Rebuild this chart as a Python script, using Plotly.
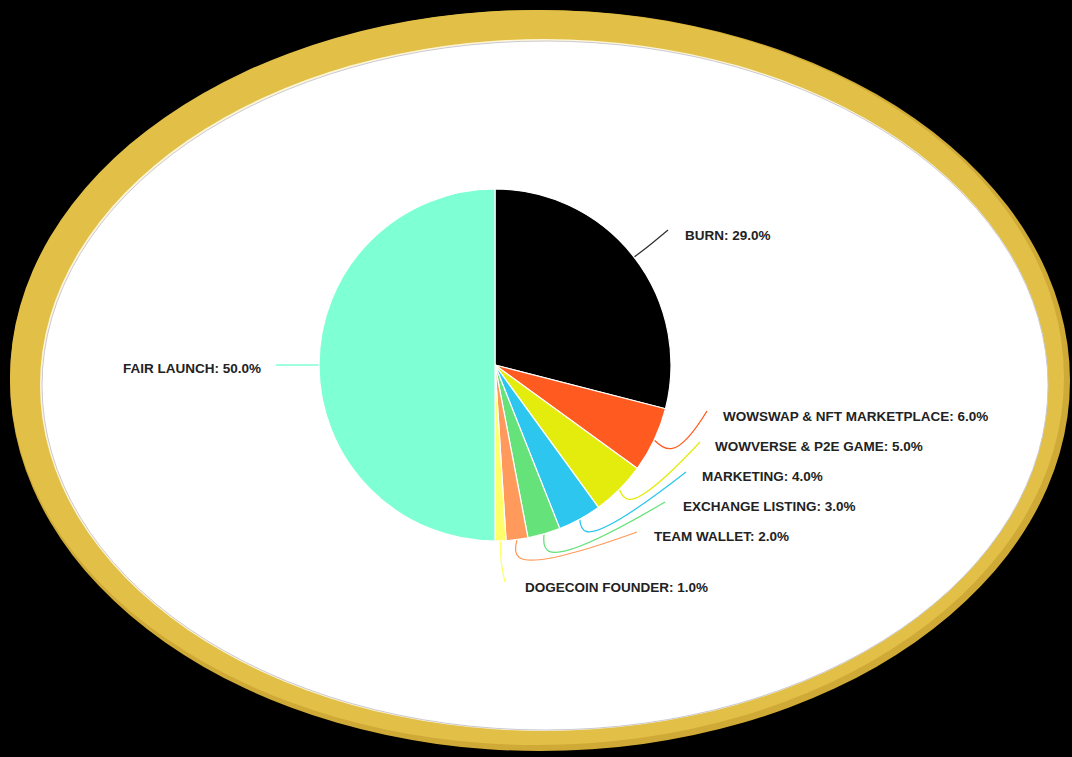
import math
import plotly.graph_objects as go

# ---------------- data ----------------
labels = ["BURN", "WOWSWAP & NFT MARKETPLACE", "WOWVERSE & P2E GAME", "MARKETING",
          "EXCHANGE LISTING", "TEAM WALLET", "DOGECOIN FOUNDER", "FAIR LAUNCH"]
values = [29.0, 6.0, 5.0, 4.0, 3.0, 2.0, 1.0, 50.0]
colors = ["#000000", "#FF5A1F", "#E4EC0E", "#2CC6EE", "#66E27A", "#FF9A5C", "#FFFF6A", "#7FFFD4"]

# ---------------- layout constants ----------------
W, H = 1072, 757
CX, CY, R = 495, 365, 176
# label anchor positions (pixels) and alignment
label_pos = [(683, 235, "left"), (721, 416, "left"), (713, 446, "left"), (700, 476, "left"),
             (681, 506, "left"), (652, 536, "left"), (523, 587, "left"), (263, 368, "right")]
line_ends = [(668, 230), (707, 411), (700, 442), (686, 472), (665, 502), (637, 532), (505, 582), (276, 365)]
ext_len = [22, 20, 14, 14, 18, 18, 20, 10]

fig = go.Figure()

# leader lines computed from slice mid-angles
total = sum(values)
cum = 0.0
for i, v in enumerate(values):
    mid = (cum + v / 2) / total * 2 * math.pi
    cum += v
    sx, sy = math.sin(mid), -math.cos(mid)
    p0 = (CX + R * sx, CY + R * sy)
    p1 = (CX + (R + ext_len[i]) * sx, CY + (R + ext_len[i]) * sy)
    p2 = line_ends[i]
    fig.add_trace(go.Scatter(
        x=[p0[0], p1[0], p2[0]], y=[p0[1], p1[1], p2[1]],
        mode="lines", line=dict(color=colors[i] if colors[i] != "#000000" else "#333333",
                                width=1.3, shape="spline", smoothing=1.3),
        hoverinfo="skip", showlegend=False))

fig.add_trace(go.Pie(
    labels=labels, values=values, sort=False, direction="clockwise", rotation=0,
    marker=dict(colors=colors, line=dict(color="#FFFFFF", width=1.2)),
    textinfo="none", hoverinfo="label+percent", showlegend=False,
    domain=dict(x=[(CX - R) / W, (CX + R) / W], y=[(H - CY - R) / H, (H - CY + R) / H]),
))

for i, lab in enumerate(labels):
    x, y, al = label_pos[i]
    fig.add_annotation(x=x, y=y, xref="x", yref="y", text=f"{lab}: {values[i]:.1f}%",
                       showarrow=False, xanchor=al, yanchor="middle",
                       font=dict(family="Liberation Sans", size=13.5, color="#222222", weight="bold"))

shapes = [
    dict(type="circle", xref="x", yref="y", x0=10, x1=1070, y0=10, y1=751,
         fillcolor="#CFAA36", line=dict(width=0), layer="below"),
    dict(type="circle", xref="x", yref="y", x0=10, x1=1064, y0=10, y1=745,
         fillcolor="#E2BF47", line=dict(width=0), layer="below"),
    dict(type="circle", xref="x", yref="y", x0=40, x1=1048, y0=39, y1=731,
         fillcolor="#FFF6D8", line=dict(width=0), layer="below"),
    dict(type="circle", xref="x", yref="y", x0=42, x1=1048, y0=41, y1=730,
         fillcolor="#FFFFFF", line=dict(color="#C9C9D2", width=1), layer="below"),
]

fig.update_layout(
    width=W, height=H, margin=dict(l=0, r=0, t=0, b=0),
    paper_bgcolor="#000000", plot_bgcolor="rgba(0,0,0,0)",
    xaxis=dict(range=[0, W], visible=False, fixedrange=True),
    yaxis=dict(range=[H, 0], visible=False, fixedrange=True),
    shapes=shapes,
)

fig.write_html("out.html", config={"displayModeBar": False},
               post_script="document.body.style.margin='0px';document.body.style.background='#000';"
                           "document.body.style.overflow='hidden';")
